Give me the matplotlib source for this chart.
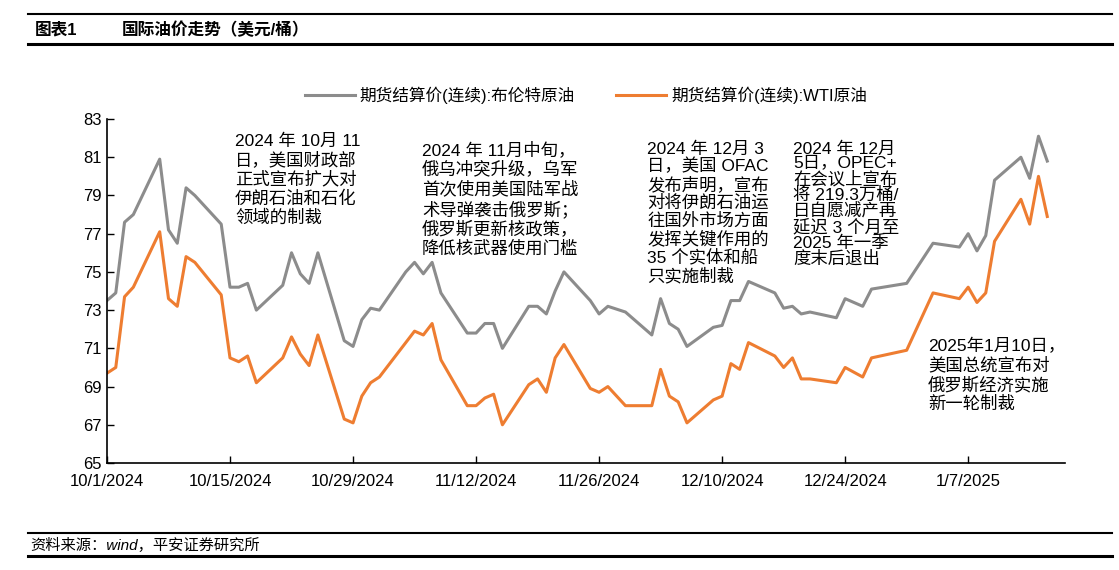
import matplotlib.pyplot as plt
from matplotlib.lines import Line2D
import pandas as pd

plt.rcParams['font.family'] = ['Liberation Sans', 'Noto Sans CJK SC', 'DejaVu Sans']

# 日期（交易日）
dates = [
    '2024-10-01', '2024-10-02', '2024-10-03', '2024-10-04', '2024-10-07', '2024-10-08',
    '2024-10-09', '2024-10-10', '2024-10-11', '2024-10-14', '2024-10-15', '2024-10-16',
    '2024-10-17', '2024-10-18', '2024-10-21', '2024-10-22', '2024-10-23', '2024-10-24',
    '2024-10-25', '2024-10-28', '2024-10-29', '2024-10-30', '2024-10-31', '2024-11-01',
    '2024-11-04', '2024-11-05', '2024-11-06', '2024-11-07', '2024-11-08', '2024-11-11',
    '2024-11-12', '2024-11-13', '2024-11-14', '2024-11-15', '2024-11-18', '2024-11-19',
    '2024-11-20', '2024-11-21', '2024-11-22', '2024-11-25', '2024-11-26', '2024-11-27',
    '2024-11-29', '2024-12-02', '2024-12-03', '2024-12-04', '2024-12-05', '2024-12-06',
    '2024-12-09', '2024-12-10', '2024-12-11', '2024-12-12', '2024-12-13', '2024-12-16',
    '2024-12-17', '2024-12-18', '2024-12-19', '2024-12-20', '2024-12-23', '2024-12-24',
    '2024-12-26', '2024-12-27', '2024-12-31', '2025-01-03', '2025-01-06', '2025-01-07',
    '2025-01-08', '2025-01-09', '2025-01-10', '2025-01-13', '2025-01-14', '2025-01-15',
    '2025-01-16',
]

brent = [
    73.5, 73.9, 77.6, 78.0, 80.9, 77.2, 76.5, 79.4, 79.0, 77.5, 74.2, 74.2,
    74.4, 73.0, 74.3, 76.0, 74.9, 74.4, 76.0, 71.4, 71.1, 72.5, 73.1, 73.0,
    75.0, 75.5, 74.9, 75.5, 73.9, 71.8, 71.8, 72.3, 72.3, 71.0, 73.2, 73.2,
    72.8, 74.0, 75.0, 73.5, 72.8, 73.2, 72.9, 71.7, 73.6, 72.3, 72.0, 71.1,
    72.1, 72.2, 73.5, 73.5, 74.5, 73.9, 73.1, 73.2, 72.8, 72.9, 72.6, 73.6,
    73.2, 74.1, 74.4, 76.5, 76.3, 77.0, 76.1, 76.9, 79.8, 81.0, 79.9, 82.1,
    80.8,
]

wti = [
    69.7, 70.0, 73.7, 74.2, 77.1, 73.6, 73.2, 75.8, 75.5, 73.8, 70.5, 70.3,
    70.6, 69.2, 70.5, 71.6, 70.7, 70.1, 71.7, 67.3, 67.1, 68.5, 69.2, 69.5,
    71.3, 71.9, 71.7, 72.3, 70.4, 68.0, 68.0, 68.4, 68.6, 67.0, 69.1, 69.4,
    68.7, 70.5, 71.2, 68.9, 68.7, 69.0, 68.0, 68.0, 69.9, 68.5, 68.2, 67.1,
    68.3, 68.5, 70.2, 69.9, 71.3, 70.6, 70.0, 70.5, 69.4, 69.4, 69.2, 70.0,
    69.5, 70.5, 70.9, 73.9, 73.6, 74.2, 73.4, 73.9, 76.6, 78.8, 77.5, 80.0,
    77.9,
]

tick_dates = ['2024-10-01', '2024-10-15', '2024-10-29', '2024-11-12', '2024-11-26',
              '2024-12-10', '2024-12-24', '2025-01-07']
tick_labels = ['10/1/2024', '10/15/2024', '10/29/2024', '11/12/2024', '11/26/2024',
               '12/10/2024', '12/24/2024', '1/7/2025']

x = pd.to_datetime(dates)
gray = '#8c8c8c'
orange = '#ee7d31'

fig = plt.figure(figsize=(11.19, 5.70), dpi=100)
ax = fig.add_axes([0.0956, 0.1877, 0.856, 0.6035])

ax.plot(x, brent, color=gray, lw=2.2, label='期货结算价(连续):布伦特原油')
ax.plot(x, wti, color=orange, lw=2.2, label='期货结算价(连续):WTI原油')

ax.set_xlim(pd.Timestamp('2024-10-01'), pd.Timestamp('2025-01-18'))
ax.set_ylim(65, 83)
ax.set_yticks(range(65, 84, 2))
ax.set_xticks(pd.to_datetime(tick_dates))
ax.set_xticklabels(tick_labels)
ax.tick_params(axis='both', direction='in', labelsize=12, length=5, width=1)
ax.tick_params(axis='x', pad=8)
for s in ['top', 'right']:
    ax.spines[s].set_visible(False)
for s in ['left', 'bottom']:
    ax.spines[s].set_linewidth(1.2)

ax.legend(loc='lower center', bbox_to_anchor=(0.5, 1.0), ncol=2, frameon=False,
          fontsize=12, handlelength=3, columnspacing=2.5, handletextpad=0.3)

# 注释
notes = [
    (235, 133, '2024 年 10月 11\n日，美国财政部\n正式宣布扩大对\n伊朗石油和石化\n领域的制裁', 1.2),
    (422, 141, '2024 年 11月中旬，\n俄乌冲突升级，乌军\n首次使用美国陆军战\n术导弹袭击俄罗斯；\n俄罗斯更新核政策，\n降低核武器使用门槛', 1.2),
    (647, 141, '2024 年 12月 3\n日，美国 OFAC\n发布声明，宣布\n对将伊朗石油运\n往国外市场方面\n发挥关键作用的\n35 个实体和船\n只实施制裁', 1.12),
    (793, 141, '2024 年 12月\n5日，OPEC+\n在会议上宣布\n将 219.3万桶/\n日自愿减产再\n延迟 3 个月至\n2025 年一季\n度末后退出', 0.97),
    (928, 338, '2025年1月10日，\n美国总统宣布对\n俄罗斯经济实施\n新一轮制裁', 1.2),
]
for px, py, txt, ls in notes:
    fig.text(px / 1119, 1 - py / 570, txt, ha='left', va='top', fontsize=12.5,
             linespacing=ls)

# 标题与页脚
fig.text(35 / 1119, 1 - 30 / 570, '图表1', fontsize=12, fontweight='bold', va='center')
fig.text(122 / 1119, 1 - 30 / 570, '国际油价走势（美元/桶）', fontsize=12, fontweight='bold',
         va='center')
fig.text(30 / 1119, 1 - 545 / 570, '资料来源：wind，平安证券研究所', fontsize=11,
         style='italic', va='center')
for yy, lw in [(14, 1.5), (44, 2.2), (533, 1.5), (556, 2.2)]:
    fig.add_artist(Line2D([28 / 1119, 1112 / 1119], [1 - yy / 570, 1 - yy / 570],
                          color='black', lw=lw))

fig.savefig('out.png', dpi=100)
